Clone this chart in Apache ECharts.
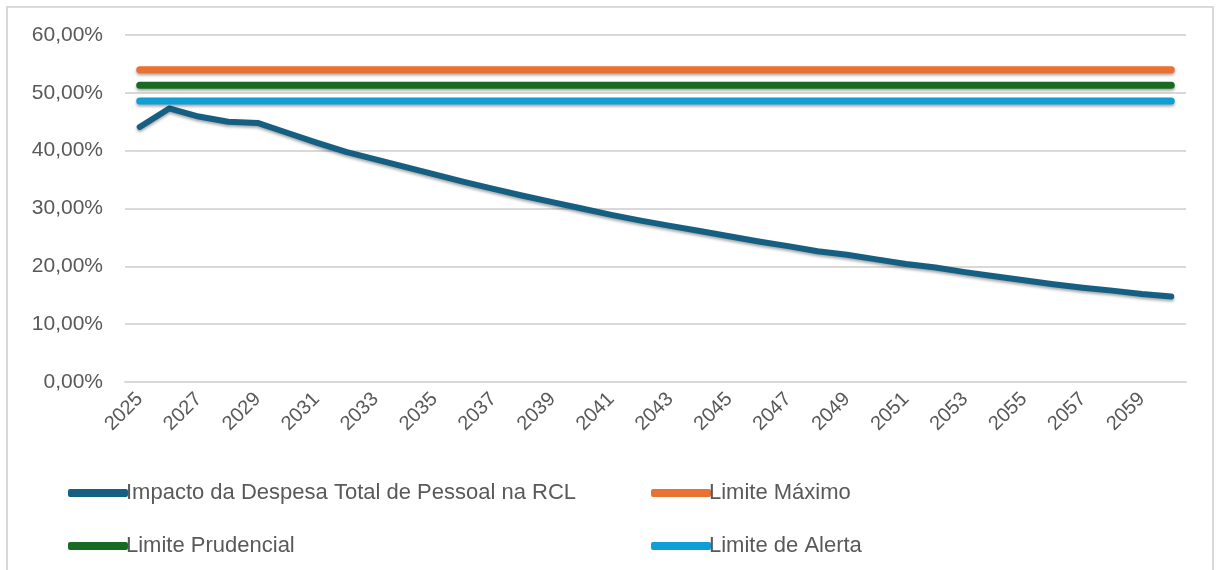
<!DOCTYPE html>
<html>
<head>
<meta charset="utf-8">
<script src="https://cdn.jsdelivr.net/npm/echarts@6/dist/echarts.min.js"></script>
<style>
  html, body { margin: 0; padding: 0; background: #fff; }
  #chart { width: 1220px; height: 570px; }
</style>
</head>
<body>
<div id="chart"></div>
<script>
// anos da projeção
const years = [
  '2025', '2026', '2027', '2028', '2029', '2030', '2031', '2032', '2033', '2034',
  '2035', '2036', '2037', '2038', '2039', '2040', '2041', '2042', '2043', '2044',
  '2045', '2046', '2047', '2048', '2049', '2050', '2051', '2052', '2053', '2054',
  '2055', '2056', '2057', '2058', '2059', '2060'
];

// Impacto da Despesa Total de Pessoal na RCL (%)
const impacto = [
  44.1, 47.3, 45.9, 45.0, 44.8, 43.1, 41.4, 39.8, 38.5, 37.2,
  35.9, 34.6, 33.4, 32.2, 31.1, 30.0, 28.9, 27.9, 27.0, 26.1,
  25.2, 24.3, 23.5, 22.6, 22.0, 21.2, 20.4, 19.8, 19.0, 18.3,
  17.6, 16.9, 16.3, 15.8, 15.2, 14.8
];

// limites da LRF (%)
const limiteMaximo = 54;
const limitePrudencial = 51.3;
const limiteAlerta = 48.6;

const yTicks = [0, 10, 20, 30, 40, 50, 60];

const TEXT = '#595959';
const GRID = '#d9d9d9';
const FONT = 'Liberation Sans, Arial, sans-serif';
const shadow = { shadowColor: 'rgba(0,0,0,0.35)', shadowBlur: 3, shadowOffsetY: 2 };

function flat(v) {
  return years.map(() => v);
}

function lineSeries(name, data, color, width) {
  return {
    name: name,
    type: 'line',
    data: data,
    symbol: 'none',
    color: color,
    lineStyle: Object.assign({ color: color, width: width, cap: 'round', join: 'round' }, shadow),
    emphasis: { disabled: true }
  };
}

const legendText = { color: TEXT, fontSize: 22, fontFamily: FONT, padding: [0, 0, 0, -7] };

const chart = echarts.init(document.getElementById('chart'), null, { renderer: 'canvas' });

chart.setOption({
  animation: false,
  graphic: [{
    type: 'rect',
    shape: { x: 7, y: 7, width: 1206, height: 580 },
    style: { fill: 'none', stroke: GRID, lineWidth: 2 },
    silent: true
  }],
  grid: { left: 125, right: 34, top: 35, bottom: 188 },
  xAxis: {
    type: 'category',
    data: years,
    boundaryGap: true,
    axisLine: { lineStyle: { color: GRID, width: 2 } },
    axisTick: { show: false },
    axisLabel: {
      interval: 1,
      rotate: 45,
      color: TEXT,
      fontSize: 20,
      fontFamily: FONT,
      margin: 14
    }
  },
  yAxis: {
    type: 'value',
    min: yTicks[0],
    max: yTicks[yTicks.length - 1],
    interval: 10,
    axisLine: { show: false },
    axisTick: { show: false },
    splitLine: { lineStyle: { color: GRID, width: 2 } },
    axisLabel: {
      color: TEXT,
      fontSize: 21,
      fontFamily: FONT,
      margin: 22,
      formatter: (v) => v.toFixed(2).replace('.', ',') + '%'
    }
  },
  legend: [
    {
      orient: 'vertical',
      left: 63,
      top: 477,
      itemGap: 31,
      itemWidth: 60,
      itemHeight: 8,
      icon: 'roundRect',
      textStyle: legendText,
      data: ['Impacto da Despesa Total de Pessoal na RCL', 'Limite Prudencial']
    },
    {
      orient: 'vertical',
      left: 646,
      top: 477,
      itemGap: 31,
      itemWidth: 60,
      itemHeight: 8,
      icon: 'roundRect',
      textStyle: legendText,
      data: ['Limite Máximo', 'Limite de Alerta']
    }
  ],
  series: [
    lineSeries('Impacto da Despesa Total de Pessoal na RCL', impacto, '#156082', 6),
    lineSeries('Limite Máximo', flat(limiteMaximo), '#E97132', 7),
    lineSeries('Limite Prudencial', flat(limitePrudencial), '#196B24', 7),
    lineSeries('Limite de Alerta', flat(limiteAlerta), '#0F9ED5', 7)
  ]
});
</script>
</body>
</html>
